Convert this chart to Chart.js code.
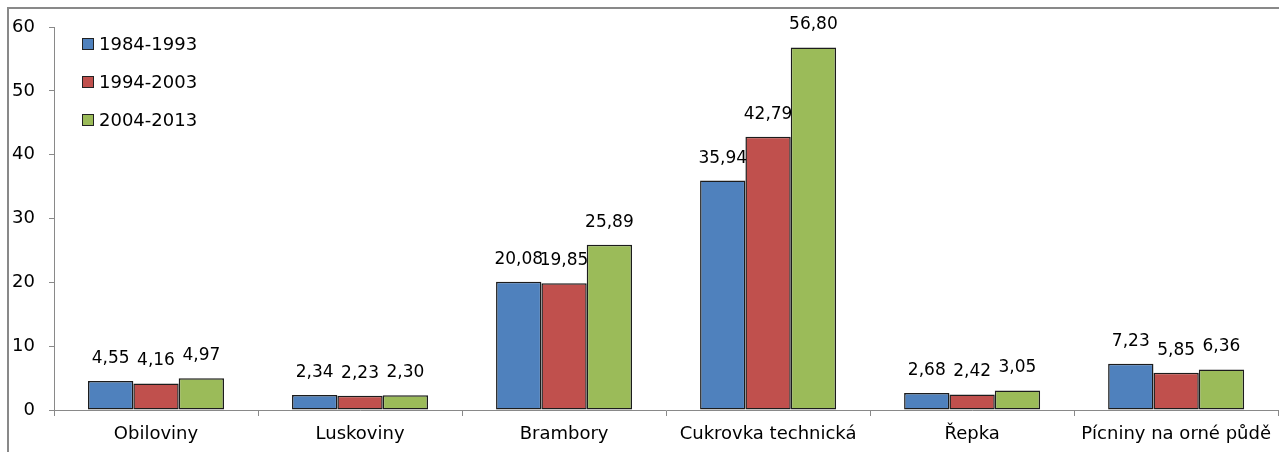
<!DOCTYPE html>
<html>
<head>
<meta charset="utf-8">
<script src="https://cdn.jsdelivr.net/npm/chart.js@4.4.1/dist/chart.umd.min.js"></script>
<style>
    body { margin: 0; background: #fff; overflow: hidden; }
    #frame { position: absolute; left: 7px; top: 7px; width: 1300px; height: 460px; border: 2px solid #898989; }
    #barChart { position: absolute; left: 0; top: 0; }
</style>
</head>
<body>
<div id="frame"></div>
<canvas id="barChart" width="1279" height="452"></canvas>
<script>
const categories = ['Obiloviny', 'Luskoviny', 'Brambory', 'Cukrovka technická', 'Řepka', 'Pícniny na orné půdě'];
const seriesNames = ['1984-1993', '1994-2003', '2004-2013'];
const values1984 = [4.55, 2.34, 20.08, 35.94, 2.68, 7.23];
const values1994 = [4.16, 2.23, 19.85, 42.79, 2.42, 5.85];
const values2004 = [4.97, 2.30, 25.89, 56.80, 3.05, 6.36];
const yTicks = [0, 10, 20, 30, 40, 50, 60];

const colors = ['#4F81BD', '#C0504D', '#9BBB59'];
const fontFamily = "'DejaVu Sans', sans-serif";

// value labels above bars, czech decimal comma
const valueLabels = {
    id: 'valueLabels',
    afterDatasetsDraw(chart) {
        const ctx = chart.ctx;
        ctx.save();
        ctx.font = '17px ' + fontFamily;
        ctx.fillStyle = '#000';
        ctx.textAlign = 'center';
        ctx.textBaseline = 'bottom';
        chart.data.datasets.forEach((ds, i) => {
            chart.getDatasetMeta(i).data.forEach((bar, j) => {
                ctx.fillText(ds.data[j].toFixed(2).replace('.', ','), bar.x, bar.y - 14);
            });
        });
        ctx.restore();
    }
};

// legend in the top-left corner of the plot
const cornerLegend = {
    id: 'cornerLegend',
    afterDraw(chart) {
        const ctx = chart.ctx;
        ctx.save();
        ctx.font = '18px ' + fontFamily;
        ctx.textBaseline = 'middle';
        chart.data.datasets.forEach((ds, i) => {
            const y = 44 + i * 38;
            ctx.fillStyle = ds.backgroundColor;
            ctx.fillRect(82, y - 6, 12, 12);
            ctx.strokeStyle = '#222';
            ctx.lineWidth = 1;
            ctx.strokeRect(82.5, y - 5.5, 11, 11);
            ctx.fillStyle = '#000';
            ctx.fillText(ds.label, 99, y + 1);
        });
        ctx.restore();
    }
};

const ctx = document.getElementById('barChart').getContext('2d');
new Chart(ctx, {
    type: 'bar',
    data: {
        labels: categories,
        datasets: [values1984, values1994, values2004].map((vals, i) => ({
            label: seriesNames[i],
            data: vals,
            backgroundColor: colors[i],
            borderColor: '#1c1c1c',
            borderWidth: 1.5,
            borderSkipped: false,
            barPercentage: 1,
            categoryPercentage: 3 / 4.5
        }))
    },
    options: {
        responsive: false,
        animation: false,
        devicePixelRatio: 1,
        layout: { padding: { top: 27, left: 0, right: 0, bottom: 0 } },
        plugins: {
            legend: { display: false },
            tooltip: { enabled: false }
        },
        scales: {
            x: {
                grid: { offset: true, drawOnChartArea: false, drawTicks: true, tickLength: 6, color: '#898989' },
                border: { display: true, color: '#898989', width: 1 },
                ticks: { color: '#000', font: { family: fontFamily, size: 18 }, padding: 8, maxRotation: 0, autoSkip: false },
                afterFit(scale) { scale.height = 42; }
            },
            y: {
                min: 0,
                max: 60,
                afterBuildTicks(scale) { scale.ticks = yTicks.map(v => ({ value: v })); },
                grid: { drawOnChartArea: false, drawTicks: true, tickLength: 5, color: '#898989' },
                border: { display: true, color: '#898989', width: 1 },
                ticks: { color: '#000', font: { family: fontFamily, size: 18 }, padding: 14 },
                afterFit(scale) { scale.width = 54; }
            }
        }
    },
    plugins: [valueLabels, cornerLegend]
});
</script>
</body>
</html>
